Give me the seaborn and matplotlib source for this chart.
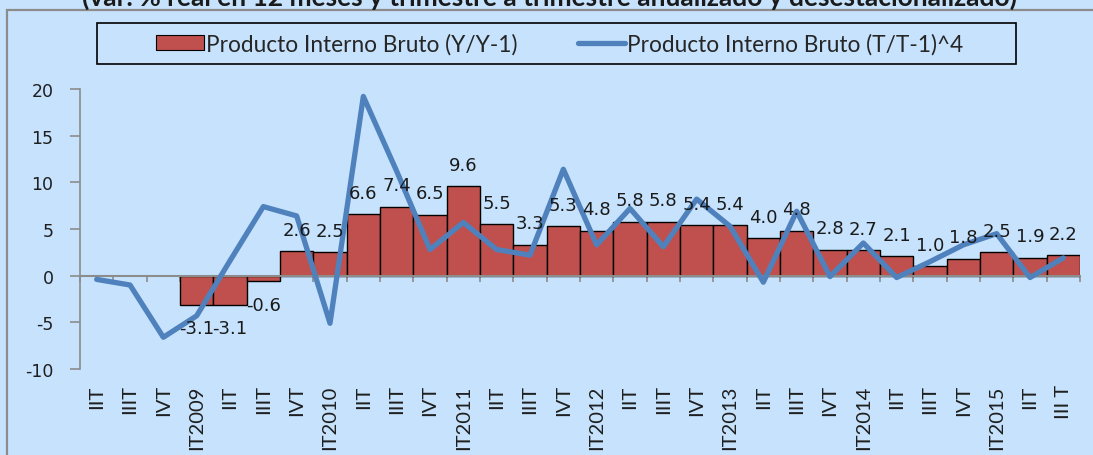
import numpy as np
import pandas as pd
import seaborn as sns
import matplotlib
matplotlib.use('Agg')
import matplotlib.pyplot as plt
from matplotlib.patches import Patch, Rectangle
from matplotlib.lines import Line2D

trimestres = ["IIT", "IIIT", "IVT", "IT2009", "IIT", "IIIT", "IVT", "IT2010",
              "IIT", "IIIT", "IVT", "IT2011", "IIT", "IIIT", "IVT", "IT2012",
              "IIT", "IIIT", "IVT", "IT2013", "IIT", "IIIT", "IVT", "IT2014",
              "IIT", "IIIT", "IVT", "IT2015", "IIT", "III T"]

# Y/Y-1 (barras)
pib_anual = [np.nan, np.nan, np.nan, -3.1, -3.1, -0.6, 2.6, 2.5,
             6.6, 7.4, 6.5, 9.6, 5.5, 3.3, 5.3, 4.8,
             5.8, 5.8, 5.4, 5.4, 4.0, 4.8, 2.8, 2.7,
             2.1, 1.0, 1.8, 2.5, 1.9, 2.2]

# (T/T-1)^4 (linea)
pib_trim = [-0.4, -1.0, -6.6, -4.3, 1.6, 7.4, 6.4, -5.1,
            19.2, 11.2, 2.8, 5.7, 2.8, 2.2, 11.4, 3.3,
            7.2, 3.1, 8.2, 5.3, -0.7, 6.9, -0.1, 3.5,
            -0.2, 1.5, 3.3, 4.5, -0.2, 1.9]

lbl_barra = "Producto Interno Bruto (Y/Y-1)"
lbl_linea = "Producto Interno Bruto (T/T-1)^4"
titulo = "(var. % real en 12 meses y trimestre a trimestre anualizado y desestacionalizado)"

fondo = "#C6E2FC"
rojo = "#C0504D"
azul = "#4F81BD"
gris = "#8C8C8C"

df = pd.DataFrame({"pos": np.arange(len(trimestres)),
                   "anual": pib_anual,
                   "trim": pib_trim})

sns.set_style("white")
plt.rcParams["axes.unicode_minus"] = False
fig = plt.figure(figsize=(10.93, 4.56), dpi=100, facecolor=fondo)
ax = fig.add_axes([80/1093, 86/456, 1000/1093, 280/456])
ax.set_facecolor(fondo)

sns.barplot(data=df, x="pos", y="anual", native_scale=True, width=1.0,
            color=rojo, saturation=1, edgecolor="black", linewidth=1,
            errorbar=None, ax=ax, zorder=2)
sns.lineplot(data=df, x="pos", y="trim", color=azul, linewidth=3.8,
             ax=ax, zorder=3)

for p, v in zip(df["pos"], df["anual"]):
    if np.isnan(v):
        continue
    off = 15.5 if v >= 0 else -17
    ax.annotate(f"{v:.1f}", (p, v), xytext=(0, off), textcoords="offset points",
                ha="center", va="center", fontsize=13, color="#1a1a1a",
                family="DejaVu Sans", zorder=4)

ax.set_xlim(-0.5, len(trimestres) - 0.5)
ax.set_ylim(-10, 20)
ax.set_yticks(np.arange(-10, 21, 5))
ax.set_xlabel("")
ax.set_ylabel("")

for s in ["top", "right"]:
    ax.spines[s].set_visible(False)
ax.spines["left"].set_color(gris)
ax.spines["left"].set_linewidth(1.2)
ax.spines["bottom"].set_position(("data", 0))
ax.spines["bottom"].set_color(gris)
ax.spines["bottom"].set_linewidth(1.5)

ax.set_xticks(np.arange(-0.5, len(trimestres), 1))
ax.set_xticklabels([])
ax.tick_params(axis="x", bottom=True, direction="out", length=4.5, width=1.2,
               color=gris)
ax.tick_params(axis="y", left=True, direction="out", length=7, width=1.2,
               color=gris, pad=12, labelsize=12.5, labelcolor="#1f1f1f")
for t in ax.get_yticklabels():
    t.set_family("DejaVu Sans")

sec = ax.secondary_xaxis("bottom")
sec.set_xticks(df["pos"], labels=trimestres, rotation=90)
sec.tick_params(bottom=True, length=0, pad=11, labelsize=14.5,
                labelcolor="#1f1f1f")
sec.spines["bottom"].set_visible(False)
for t in sec.get_xticklabels():
    t.set_family("Lato")
    t.set_verticalalignment("top")

# marco exterior y titulo recortado
fig.patches.append(Rectangle((7/1093, -0.2), 1.2, (456 - 11)/456 + 0.2,
                             transform=fig.transFigure, fill=False,
                             edgecolor=gris, linewidth=1.6))
fig.text(0.503, 1 - 6/456, titulo, ha="center", va="baseline",
         fontsize=19, family="Lato", fontweight="bold", color="#1a1a1a")

# leyenda
fig.patches.append(Rectangle((97/1093, (456 - 65)/456), (1016 - 97)/1093, 41/456,
                             transform=fig.transFigure, fill=False,
                             edgecolor="black", linewidth=1.2))
handles = [Patch(facecolor=rojo, edgecolor="black", linewidth=0.8),
           Line2D([], [], color=azul, linewidth=3.8)]
fig.legend(handles, [lbl_barra, lbl_linea], ncol=2, frameon=False,
           loc="center", bbox_to_anchor=(560/1093, (456 - 44.5)/456),
           prop={"family": "Lato", "size": 16.3}, handlelength=2.1,
           handleheight=0.65, handletextpad=0.1, columnspacing=2.65)

fig.savefig("out.png", dpi=100, facecolor=fondo)
